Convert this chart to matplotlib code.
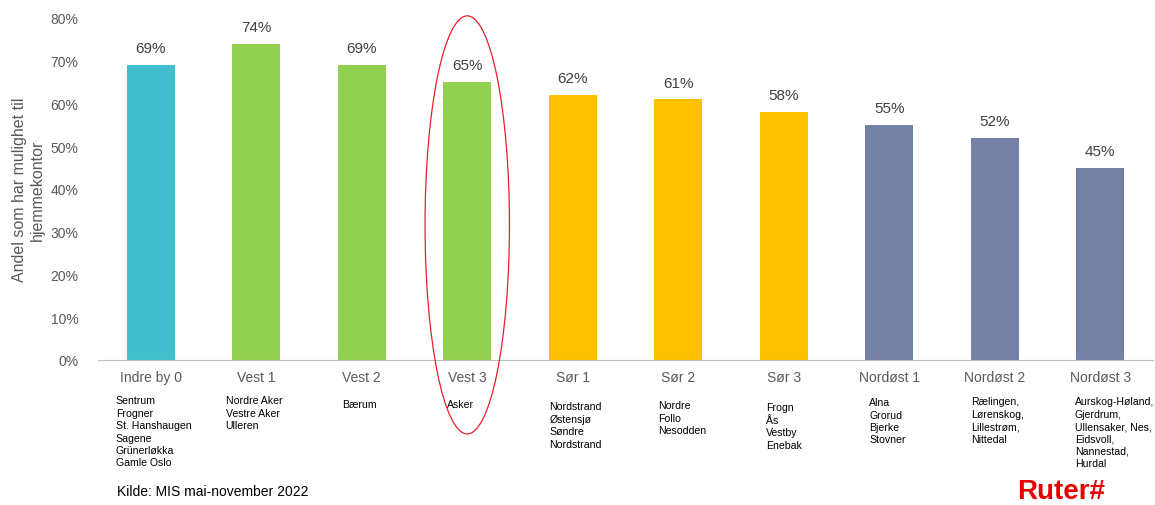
"""Andel som har mulighet til hjemmekontor, per sone (Ruter, MIS 2022)."""
import matplotlib.pyplot as plt
from matplotlib.patches import Ellipse

plt.rcParams["font.family"] = ["Liberation Sans", "DejaVu Sans"]

zones = ["Indre by 0", "Vest 1", "Vest 2", "Vest 3", "Sør 1", "Sør 2",
         "Sør 3", "Nordøst 1", "Nordøst 2", "Nordøst 3"]
shares = [69, 74, 69, 65, 62, 61, 58, 55, 52, 45]
areas = [
    "Sentrum\nFrogner\nSt. Hanshaugen\nSagene\nGrünerløkka\nGamle Oslo",
    "Nordre Aker\nVestre Aker\nUlleren",
    "Bærum",
    "Asker",
    "Nordstrand\nØstensjø\nSøndre\nNordstrand",
    "Nordre\nFollo\nNesodden",
    "Frogn\nÅs\nVestby\nEnebak",
    "Alna\nGrorud\nBjerke\nStovner",
    "Rælingen,\nLørenskog,\nLillestrøm,\nNittedal",
    "Aurskog-Høland,\nGjerdrum,\nUllensaker, Nes,\nEidsvoll,\nNannestad,\nHurdal",
]
region = ["indre", "vest", "vest", "vest", "sor", "sor", "sor",
          "nordost", "nordost", "nordost"]
highlight = "Vest 3"

palette = {"indre": "#42BFCF", "vest": "#92D050",
           "sor": "#FFC000", "nordost": "#7480A4"}
# small nudges so the area lists start where the original has them
area_dx = [-0.33, -0.29, -0.19, -0.19, -0.22, -0.19, -0.17, -0.19, -0.22, -0.24]
area_y = [-8.3, -8.3, -9.2, -9.2, -9.7, -9.4, -9.9, -8.7, -8.5, -8.5]

fig = plt.figure(figsize=(11.55, 5.06), dpi=100)
ax = fig.add_axes([98 / 1155, 145 / 506, 1055 / 1155, 342 / 506])

x = list(range(len(zones)))
ax.bar(x, shares, width=0.455, color=[palette[r] for r in region], zorder=2)
for xi, v in zip(x, shares):
    ax.annotate(f"{v}%", (xi, v), xytext=(0, 7), textcoords="offset points",
                ha="center", va="bottom", fontsize=11, color="#404040")

ax.set_xlim(-0.5, len(zones) - 0.5)
ax.set_ylim(0, 80)
ax.set_yticks(range(0, 81, 10))
ax.set_yticklabels([f"{t}%" for t in range(0, 81, 10)])
ax.tick_params(axis="y", length=0, pad=14, labelsize=10, labelcolor="#595959")
ax.set_xticks(x)
ax.set_xticklabels(zones)
ax.tick_params(axis="x", length=0, pad=7, labelsize=10, labelcolor="#595959")
for s in ("top", "right", "left"):
    ax.spines[s].set_visible(False)
ax.spines["bottom"].set_color("#BFBFBF")

ax.set_ylabel("Andel som har mulighet til\nhjemmekontor", fontsize=11.5,
              color="#595959", labelpad=4, linespacing=1.25)

for xi, txt, dx, yy in zip(x, areas, area_dx, area_y):
    ax.text(xi + dx, yy, txt, ha="left", va="top", fontsize=7.6,
            color="black", linespacing=1.3, clip_on=False)

hi = zones.index(highlight)
ax.add_patch(Ellipse((hi, 31.6), 0.8, 97.8, fill=False, edgecolor="#E8202A",
                     linewidth=0.9, clip_on=False, zorder=3))

fig.text(117 / 1155, 1 - 492 / 506, "Kilde: MIS mai-november 2022",
         fontsize=10, color="black", va="center", ha="left")
fig.text(1105 / 1155, 1 - 492 / 506, "Ruter#", fontsize=20, fontweight="bold",
         color="#E60000", va="center", ha="right")

fig.savefig("out.png", dpi=100)
